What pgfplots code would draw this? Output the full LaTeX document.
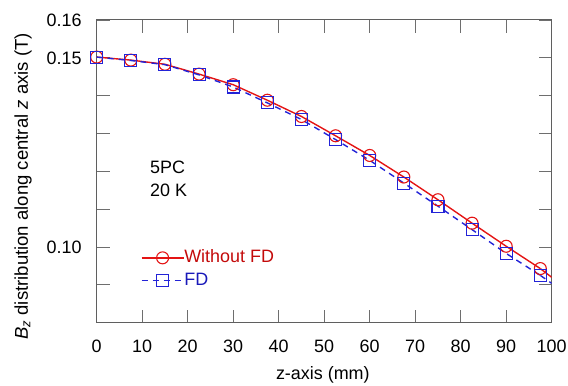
\documentclass[border=0pt]{standalone}
\usepackage{pgfplots}
\pgfplotsset{compat=1.18}
\usepackage{fontspec}
\setmainfont{Liberation Sans}
\definecolor{lred}{RGB}{228,20,20}
\definecolor{lblue}{RGB}{35,35,215}
\definecolor{tred}{RGB}{195,10,10}
\definecolor{tblue}{RGB}{25,25,185}
\definecolor{axgray}{RGB}{95,95,95}
\definecolor{tkgray}{RGB}{110,110,110}
\begin{document}
\begin{tikzpicture}
\begin{axis}[
  name=ax,
  scale only axis,
  width=455bp, height=302.7bp,
  xmin=0, xmax=100, ymin=0.08, ymax=0.16,
  xtick={0,10,...,100},
  ytick={0.10,0.15,0.16},
  yticklabels={0.10,0.15,0.16},
  minor ytick={0.09,0.11,0.12,0.13,0.14},
  tick pos=both,
  tick align=inside,
  major tick length=13bp, minor tick length=13bp,
  every tick/.style={tkgray, line width=0.9bp},
  every minor tick/.style={tkgray, line width=0.9bp},
  axis line style={axgray, line width=1bp},
  /pgf/number format/assume math mode=true,
  tick label style={font=\fontsize{18}{21}\selectfont, inner sep=0pt},
  xticklabel style={anchor=center, yshift=-24bp},
  yticklabel style={anchor=east, xshift=-15bp},
  xlabel={z-axis (mm)},
  ylabel={\textit{B}\textsubscript{\textit{z}} distribution along central \textit{z} axis (T)},
  every axis x label/.style={at={(axis description cs:0.497,-0.173)}, anchor=center, font=\fontsize{18}{21}\selectfont},
  every axis y label/.style={at={(axis description cs:-0.162,0.45)}, anchor=center, rotate=90, font=\fontsize{18.6}{21}\selectfont},
  legend style={at={(axis description cs:0.0967,0.243)}, anchor=north west, draw=none, fill=none,
    font=\fontsize{18}{21}\selectfont, inner sep=0pt, row sep=5.7bp,
    nodes={inner sep=0pt, text height=13bp, text depth=4bp}},
  legend cell align=left,
  legend image code/.code={\draw[mark repeat=2,mark phase=2,#1] plot coordinates {(0bp,0bp) (21bp,0bp) (42bp,0bp)}; \hspace{7bp}},
]
\addplot[lred, line width=1.4bp, mark=o, mark size=6bp, mark options={solid, lred, line width=1.1bp}] coordinates {
(0,0.1502) (7.5,0.1494) (15,0.1483) (22.5,0.1457) (30,0.1429) (37.5,0.1388)
(45,0.1345) (52.5,0.1294) (60,0.1242) (67.5,0.1185) (75,0.1125) (82.5,0.1063)
(90,0.1002) (97.5,0.0943)};
\addlegendentry{\textcolor{tred}{Without FD}}
\addplot[lblue, line width=1.4bp, dash pattern=on 6bp off 5bp, mark=square, mark size=6bp, mark options={solid, lblue, line width=1.1bp}] coordinates {
(0,0.1502) (7.5,0.1493) (15,0.1482) (22.5,0.1455) (30,0.1423) (37.5,0.1381)
(45,0.1337) (52.5,0.1284) (60,0.1229) (67.5,0.1169) (75,0.1108) (82.5,0.1046)
(90,0.0983) (97.5,0.0925)};
\addlegendentry{\textcolor{tblue}{FD}}
\addplot[lred, line width=1.4bp, forget plot] coordinates {(97.5,0.0943) (100,0.0920)};
\addplot[lblue, line width=1.4bp, dash pattern=on 6bp off 5bp, forget plot] coordinates {(97.5,0.0925) (100,0.0904)};
\node[anchor=west, align=left, font=\fontsize{18}{23.4}\selectfont, inner sep=0pt] at (axis cs:11.7,0.1181) {5PC\\20 K};
\end{axis}
\pgfresetboundingbox
\path ([xshift=-96.7bp,yshift=-63.3bp]ax.south west) rectangle ([xshift=16.3bp,yshift=20bp]ax.north east);
\end{tikzpicture}
\end{document}
